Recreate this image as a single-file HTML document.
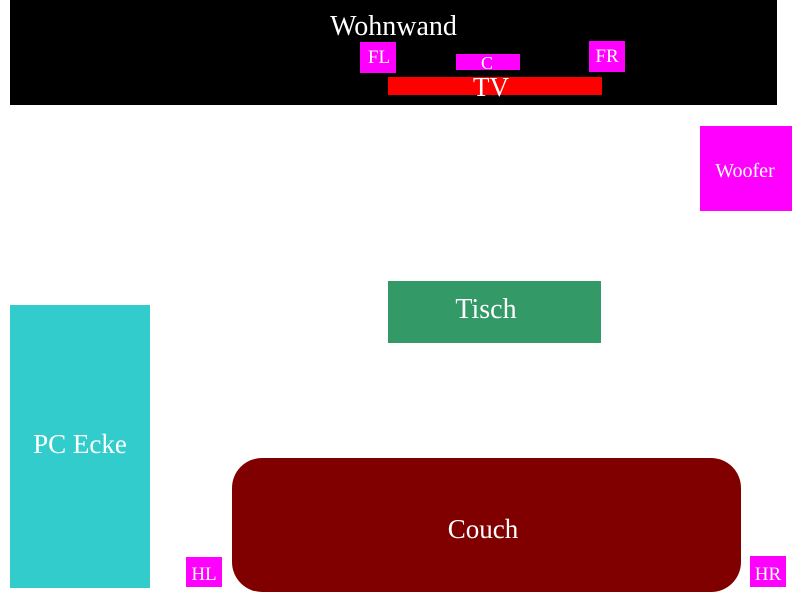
<!DOCTYPE html>
<html>
<head>
<meta charset="utf-8">
<style>
html,body{margin:0;padding:0;background:#fff;}
svg{display:block;}
text{font-family:"Liberation Serif",serif;fill:#fff;text-anchor:middle;}
</style>
</head>
<body>
<svg width="800" height="600" viewBox="0 0 800 600" xmlns="http://www.w3.org/2000/svg">
  <rect x="0" y="0" width="800" height="600" fill="#fff"/>
  <!-- Wohnwand -->
  <rect x="10" y="0" width="767" height="105" fill="#000"/>
  <text x="393.5" y="35" font-size="28">Wohnwand</text>
  <!-- FL -->
  <rect x="360" y="42" width="36" height="31" fill="#ff00ff"/>
  <text x="379" y="63" font-size="19">FL</text>
  <!-- C -->
  <rect x="456" y="54" width="64" height="16" fill="#ff00ff"/>
  <text x="487" y="69" font-size="18">C</text>
  <!-- FR -->
  <rect x="589" y="41" width="36" height="31" fill="#ff00ff"/>
  <text x="607" y="62" font-size="19">FR</text>
  <!-- TV -->
  <rect x="388" y="77" width="214" height="18" fill="#ff0000"/>
  <text x="491" y="96" font-size="27">TV</text>
  <!-- Woofer -->
  <rect x="700" y="126" width="92" height="85" fill="#ff00ff"/>
  <text x="745" y="177" font-size="20">Woofer</text>
  <!-- Tisch -->
  <rect x="388" y="281" width="213" height="62" fill="#339966"/>
  <text x="486" y="318" font-size="28">Tisch</text>
  <!-- PC Ecke -->
  <rect x="10" y="305" width="140" height="283" fill="#33cccc"/>
  <text x="80" y="453" font-size="27">PC Ecke</text>
  <!-- Couch -->
  <rect x="232" y="458" width="509" height="134" rx="30" ry="30" fill="#800000"/>
  <text x="483" y="538" font-size="27">Couch</text>
  <!-- HL -->
  <rect x="186" y="557" width="36" height="30" fill="#ff00ff"/>
  <text x="204" y="580" font-size="19">HL</text>
  <!-- HR -->
  <rect x="750" y="556" width="36" height="31" fill="#ff00ff"/>
  <text x="768" y="580" font-size="19">HR</text>
</svg>
</body>
</html>
